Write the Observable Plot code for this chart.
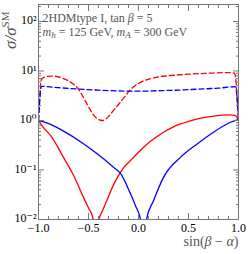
<!DOCTYPE html>
<html><head><meta charset="utf-8">
<script src="https://cdn.jsdelivr.net/npm/d3@7"></script>
<script src="https://cdn.jsdelivr.net/npm/@observablehq/plot@0.6"></script>
<style>body{margin:0;background:#fff}</style>
</head><body><div id="chart"></div>
<script>
const redSolidX = [-1, -0.95, -0.88, -0.75, -0.65, -0.55, -0.5, -0.46, -0.44, -0.435, -0.42, -0.39, -0.36, -0.31, -0.25, -0.21, -0.15, -0.08, 0.02, 0.09, 0.17, 0.25, 0.33, 0.42, 0.5, 0.59, 0.67, 0.75, 0.84, 0.92, 0.97, 1];
const redSolidY = [1, 0.72, 0.5, 0.18, 0.078, 0.028, 0.017, 0.0115, 0.006, 0.003, 0.006, 0.011, 0.015, 0.026, 0.05, 0.071, 0.11, 0.155, 0.25, 0.34, 0.45, 0.58, 0.71, 0.85, 0.96, 1.08, 1.16, 1.22, 1.28, 1.3, 1.25, 1.0];
const blueSolidX = [-1, -0.91, -0.75, -0.55, -0.41, -0.25, -0.18, -0.08, -0.03, 0.02, 0.05, 0.08, 0.15, 0.25, 0.42, 0.59, 0.75, 0.92, 1];
const blueSolidY = [1, 0.88, 0.61, 0.34, 0.21, 0.114, 0.085, 0.033, 0.019, 0.01, 0.004, 0.01, 0.024, 0.071, 0.18, 0.34, 0.58, 0.92, 1.05];
const redDashX = [-1, -0.97, -0.93, -0.86, -0.75, -0.66, -0.6, -0.55, -0.5, -0.45, -0.4, -0.36, -0.3, -0.25, -0.2, -0.15, -0.08, 0.02, 0.1, 0.2, 0.3, 0.5, 0.7, 0.9, 0.96, 1];
const redDashY = [1, 6.8, 7.6, 7.9, 7.0, 5.6, 4.3, 2.9, 1.9, 1.3, 1.05, 1.0, 1.2, 1.6, 2.1, 2.8, 4.2, 5.9, 6.8, 7.6, 8.0, 8.6, 9.0, 9.3, 9.0, 1];
const blueDashX = [-1, -0.97, -0.8, -0.6, -0.4, -0.2, 0, 0.2, 0.4, 0.6, 0.8, 0.97, 1];
const blueDashY = [1, 4.9, 4.6, 4.3, 4.1, 3.95, 3.9, 4.0, 4.1, 4.3, 4.5, 4.8, 1];

const xMajor = [-1, -0.5, 0, 0.5, 1];
const xMajorLabels = ["−1.0", "−0.5", "0.0", "0.5", "1.0"];
const yMajor = [0.01, 0.1, 1, 10, 100];
const yMajorLabels = ["10⁻²", "10⁻¹", "10⁰", "10¹", "10²"];
const xLabel = "sin(β − α)";
const yLabel = "σ/σSM";
const note1 = "2HDMtype I, tan β = 5";
const note2 = "mh = 125 GeV, mA = 300 GeV";

const xMinor = d3.range(-10, 11).map(i => i / 10).filter(v => !xMajor.some(m => Math.abs(m - v) < 1e-9));
const yMinor = [];
for (let e = -2; e <= 2; e++) for (let k = 2; k <= 9; k++) { const v = k * 10 ** e; if (v <= 220) yMinor.push(v); }

const xFmt = d => xMajorLabels[xMajor.findIndex(m => Math.abs(m - d) < 1e-9)];
const yFmt = d => yMajorLabels[yMajor.findIndex(m => Math.abs(m / d - 1) < 1e-6)];

const pts = (xs, ys) => xs.map((x, i) => ({x, y: ys[i]}));
const font = "Liberation Serif, DejaVu Serif, serif";
const axisGrey = "#777";
const lineOpts = {x: "x", y: "y", strokeWidth: 1.3, clip: true, curve: "monotone-x"};

const plot = Plot.plot({
  width: 249, height: 254,
  marginLeft: 38, marginRight: 11, marginTop: 4, marginBottom: 35,
  style: {fontFamily: font, fontSize: "12px", background: "#fff", color: "#000"},
  x: {domain: [-1, 1]},
  y: {type: "log", domain: [0.01, 220]},
  marks: [
    Plot.line(pts(redSolidX, redSolidY), {...lineOpts, stroke: "#ff0000"}),
    Plot.line(pts(blueSolidX, blueSolidY), {...lineOpts, stroke: "#0000ff"}),
    Plot.line(pts(redDashX, redDashY), {...lineOpts, stroke: "#ff0000", strokeDasharray: "5,3"}),
    Plot.line(pts(blueDashX, blueDashY), {...lineOpts, stroke: "#0000ff", strokeDasharray: "5,3"}),
    Plot.frame({stroke: axisGrey}),
    Plot.axisX(xMajor, {anchor: "bottom", tickSize: -6, tickFormat: () => "", label: null, stroke: axisGrey}),
    Plot.axisX(xMinor, {anchor: "bottom", tickSize: -3, tickFormat: () => "", label: null, stroke: axisGrey}),
    Plot.axisX(xMajor, {anchor: "top", tickSize: -6, tickFormat: () => "", label: null, stroke: axisGrey}),
    Plot.axisX(xMinor, {anchor: "top", tickSize: -3, tickFormat: () => "", label: null, stroke: axisGrey}),
    Plot.axisX(xMajor, {anchor: "bottom", tickSize: 0, tickPadding: 4, tickFormat: xFmt, label: null, fontSize: 12}),
    Plot.axisY(yMajor, {anchor: "left", tickSize: -6, tickFormat: () => "", label: null, stroke: axisGrey}),
    Plot.axisY(yMinor, {anchor: "left", tickSize: -3, tickFormat: () => "", label: null, stroke: axisGrey}),
    Plot.axisY(yMajor, {anchor: "right", tickSize: -6, tickFormat: () => "", label: null, stroke: axisGrey}),
    Plot.axisY(yMinor, {anchor: "right", tickSize: -3, tickFormat: () => "", label: null, stroke: axisGrey}),
    Plot.axisY(yMajor, {anchor: "left", tickSize: 0, tickPadding: 2, tickFormat: yFmt, label: null, fontSize: 12, dy: -1}),
    Plot.text([xLabel], {frameAnchor: "bottom-right", textAnchor: "end", lineAnchor: "top", dy: 17, fontSize: 14, fill: "#555"}),
    Plot.text([yLabel], {frameAnchor: "top-left", textAnchor: "end", lineAnchor: "bottom", rotate: -90, dx: -23, dy: 7, fontSize: 17, fill: "#555"}),
    Plot.text([note1], {frameAnchor: "top-left", textAnchor: "start", lineAnchor: "top", dx: 4, dy: 9, fontSize: 12, fill: "#555"}),
    Plot.text([note2], {frameAnchor: "top-left", textAnchor: "start", lineAnchor: "top", dx: 4, dy: 23, fontSize: 12, fill: "#555"})
  ]
});
document.getElementById("chart").appendChild(plot);

d3.select(plot).selectAll("text").each(function () {
  const t = this.textContent;
  const sel = d3.select(this);
  if (t === yLabel) {
    sel.text(null);
    sel.append("tspan").attr("font-style", "italic").text("σ/σ");
    sel.append("tspan").attr("font-size", "11px").attr("dy", "-7").text("SM");
  } else if (t === note2) {
    sel.text(null);
    sel.append("tspan").attr("font-style", "italic").text("m");
    sel.append("tspan").attr("font-size", "9px").attr("font-style", "italic").attr("dy", "2").text("h");
    sel.append("tspan").attr("dy", "-2").text(" = 125 GeV, ");
    sel.append("tspan").attr("font-style", "italic").text("m");
    sel.append("tspan").attr("font-size", "9px").attr("font-style", "italic").attr("dy", "2").text("A");
    sel.append("tspan").attr("dy", "-2").text(" = 300 GeV");
  } else if (t === note1) {
    sel.text(null);
    sel.append("tspan").text("2HDMtype I, tan ");
    sel.append("tspan").attr("font-style", "italic").text("β");
    sel.append("tspan").text(" = 5");
  } else if (t === xLabel) {
    sel.text(null);
    sel.append("tspan").text("sin(");
    sel.append("tspan").attr("font-style", "italic").text("β");
    sel.append("tspan").text(" − ");
    sel.append("tspan").attr("font-style", "italic").text("α");
    sel.append("tspan").text(")");
  }
});
</script>
</body></html>
